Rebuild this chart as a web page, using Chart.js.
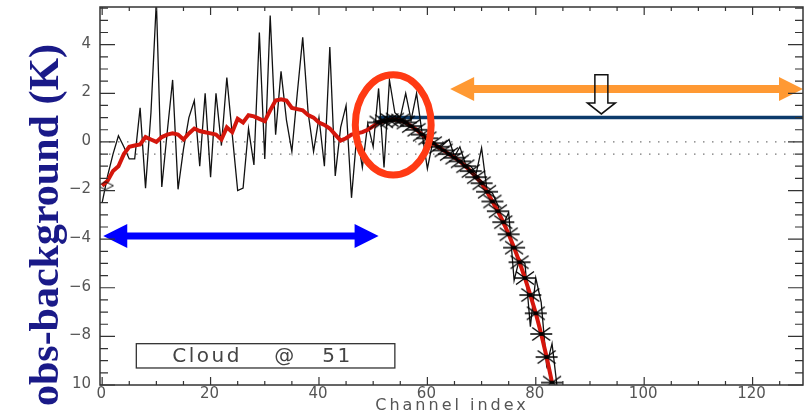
<!DOCTYPE html>
<html>
<head>
<meta charset="utf-8">
<script src="https://cdn.jsdelivr.net/npm/chart.js@4.4.1/dist/chart.umd.min.js"></script>
<style>
  html, body { margin: 0; padding: 0; background: #fff; }
</style>
</head>
<body>
<canvas id="chart" width="806" height="412"></canvas>
<script>
// obs - background per channel (black noisy trace), channels 0..84
const obsMinusBg = [
  -2.5, -1.4, -0.5, 0.25, -0.2, -0.7, -0.7, 1.4, -1.9, 1.2,
  5.8, -1.85, 0.4, 2.55, -1.95, -0.3, 1.0, 1.7, -1.0, 2.0,
  -1.45, 2.0, -0.15, 2.65, 0.3, -2.0, -1.9, 0.55, -0.95, 4.5,
  -0.7, 5.2, 0.3, 2.9, 0.9, -0.4, 2.0, 4.3, 1.2, -0.4,
  1.0, -1.0, 3.9, -1.4, 0.6, 1.5, -2.3, 0.35, -1.05, 0.75,
  -0.2, 2.2, -1.05, 2.55, 1.2, 1.0, 2.0, 0.9, 2.0, 0.4,
  -1.1, 0.0, -0.3, -0.1, 0.1, -0.6, -0.2, -0.9, -1.0, -1.3,
  -0.25, -2.0, -2.1, -2.6, -3.4, -2.9, -5.7, -4.8, -5.0, -7.6,
  -5.6, -6.6, -9.2, -8.3, -10.2
];

// smoothed departures (red), channels 0..83
const smoothed = [
  -1.8, -1.6, -1.2, -1.0, -0.5, -0.2, -0.15, -0.1, 0.2, 0.1,
  0.0, 0.2, 0.3, 0.35, 0.3, 0.1, 0.35, 0.55, 0.45, 0.4,
  0.35, 0.3, 0.1, 0.6, 0.4, 0.95, 0.8, 1.1, 1.05, 0.95,
  0.85, 1.3, 1.7, 1.75, 1.7, 1.4, 1.35, 1.3, 1.1, 1.0,
  0.8, 0.7, 0.55, 0.3, 0.05, 0.15, 0.3, 0.35, 0.4, 0.5,
  0.65, 0.8, 0.85, 0.9, 0.92, 0.88, 0.8, 0.65, 0.5, 0.3,
  0.15, -0.05, -0.2, -0.35, -0.5, -0.65, -0.8, -1.0, -1.2, -1.45,
  -1.7, -2.05, -2.45, -2.85, -3.3, -3.8, -4.35, -4.95, -5.6, -6.3,
  -7.05, -7.9, -8.85, -9.9
];

const cloudChannel = 51;       // first channel flagged as cloudy
const cloudLevel = 1;          // threshold level (K)
const refLevels = [0, -0.5];   // dotted reference levels

const xMin = -0.4, xMax = 129.3;
const yMin = -10, yMax = 5.55;
const xTickLabels = [0, 20, 40, 60, 80, 100, 120];
const yTickLabels = [-10, -8, -6, -4, -2, 0, 2, 4];
const xMinorStep = 5;
const yMinorStep = 0.5;

// annotation anchors in data units
const blueArrow = { from: 0.2, to: 51, level: -3.87 };
const orangeArrow = { from: 64.2, to: 129.3, level: 2.18 };
const hollowArrow = { channel: 92.1, top: 2.76, tip: 1.15 };
const ringMark = { channel: 53.7, level: 0.7, rx: 7.0, ry: 2.06 };
const cloudBox = { from: 6.3, to: 54, top: -8.3, bottom: -9.3 };

const toXY = (arr, start = 0) => arr.map((v, i) => ({ x: start + i, y: v }));

function makeAsterisk() {
  const c = document.createElement('canvas');
  c.width = 24; c.height = 16;
  const g = c.getContext('2d');
  g.strokeStyle = '#000';
  g.lineWidth = 1.4;
  g.beginPath();
  g.moveTo(1, 8); g.lineTo(23, 8);
  g.moveTo(3, 1.5); g.lineTo(21, 14.5);
  g.moveTo(3, 14.5); g.lineTo(21, 1.5);
  g.stroke();
  g.fillStyle = '#000';
  g.beginPath(); g.arc(12, 8, 2, 0, Math.PI * 2); g.fill();
  return c;
}

function makeDiamond() {
  const c = document.createElement('canvas');
  c.width = 18; c.height = 10;
  const g = c.getContext('2d');
  g.strokeStyle = '#111';
  g.lineWidth = 1;
  g.beginPath();
  g.moveTo(1, 5); g.lineTo(9, 1); g.lineTo(17, 5); g.lineTo(9, 9); g.closePath();
  g.stroke();
  return c;
}

function doubleArrow(ctx, x1, x2, yc, shaft, headLen, headH, color) {
  ctx.fillStyle = color;
  ctx.beginPath();
  ctx.moveTo(x1, yc);
  ctx.lineTo(x1 + headLen, yc - headH / 2);
  ctx.lineTo(x1 + headLen, yc - shaft / 2);
  ctx.lineTo(x2 - headLen, yc - shaft / 2);
  ctx.lineTo(x2 - headLen, yc - headH / 2);
  ctx.lineTo(x2, yc);
  ctx.lineTo(x2 - headLen, yc + headH / 2);
  ctx.lineTo(x2 - headLen, yc + shaft / 2);
  ctx.lineTo(x1 + headLen, yc + shaft / 2);
  ctx.lineTo(x1 + headLen, yc + headH / 2);
  ctx.closePath();
  ctx.fill();
}

function hollowPath(ctx, cx, top, tip) {
  const sw = 6.5, hw = 14, headTop = tip - 11;
  ctx.beginPath();
  ctx.moveTo(cx - sw, top);
  ctx.lineTo(cx + sw, top);
  ctx.lineTo(cx + sw, headTop);
  ctx.lineTo(cx + hw, headTop);
  ctx.lineTo(cx, tip);
  ctx.lineTo(cx - hw, headTop);
  ctx.lineTo(cx - sw, headTop);
  ctx.closePath();
}

const tickFont = '15px "DejaVu Sans"';
const tickColor = '#555';

const fmtY = v => v === -10 ? '10' : (v < 0 ? '\u2212' + Math.abs(v) : String(v));

// axes frame, inward ticks, labels and annotations
const decorations = {
  id: 'decorations',
  afterDatasetsDraw(chart) {
    const { ctx, chartArea: a, scales: { x, y } } = chart;
    ctx.save();

    // blue arrow (clear-sky range)
    doubleArrow(ctx, x.getPixelForValue(blueArrow.from), x.getPixelForValue(blueArrow.to),
      y.getPixelForValue(blueArrow.level), 7, 24, 24, '#0000ff');

    // hollow arrow fill, orange arrow, then hollow outline
    const hx = x.getPixelForValue(hollowArrow.channel);
    const htop = y.getPixelForValue(hollowArrow.top);
    const htip = y.getPixelForValue(hollowArrow.tip);
    hollowPath(ctx, hx, htop, htip);
    ctx.fillStyle = '#fff';
    ctx.fill();
    doubleArrow(ctx, x.getPixelForValue(orangeArrow.from), x.getPixelForValue(orangeArrow.to),
      y.getPixelForValue(orangeArrow.level), 8, 24, 24, '#ff9933');
    hollowPath(ctx, hx, htop, htip);
    ctx.strokeStyle = '#111';
    ctx.lineWidth = 1.5;
    ctx.stroke();

    // ring around the cloud onset
    const rx = Math.abs(x.getPixelForValue(ringMark.channel + ringMark.rx) - x.getPixelForValue(ringMark.channel));
    const ry = Math.abs(y.getPixelForValue(ringMark.level + ringMark.ry) - y.getPixelForValue(ringMark.level));
    ctx.beginPath();
    ctx.ellipse(x.getPixelForValue(ringMark.channel), y.getPixelForValue(ringMark.level), rx, ry, 0, 0, Math.PI * 2);
    ctx.strokeStyle = '#ff3a14';
    ctx.lineWidth = 7;
    ctx.stroke();

    // cloud label box
    const bx1 = x.getPixelForValue(cloudBox.from), bx2 = x.getPixelForValue(cloudBox.to);
    const by1 = y.getPixelForValue(cloudBox.top), by2 = y.getPixelForValue(cloudBox.bottom);
    ctx.fillStyle = '#fff';
    ctx.fillRect(bx1, by1, bx2 - bx1, by2 - by1);
    ctx.strokeStyle = '#333';
    ctx.lineWidth = 1.3;
    ctx.strokeRect(bx1, by1, bx2 - bx1, by2 - by1);
    ctx.fillStyle = '#444';
    ctx.font = '20px "DejaVu Sans"';
    ctx.textBaseline = 'middle';
    ctx.textAlign = 'left';
    ctx.letterSpacing = '2.5px';
    ctx.fillText('Cloud', bx1 + 36, (by1 + by2) / 2 + 1);
    ctx.fillText('@', bx1 + 138, (by1 + by2) / 2 + 1);
    ctx.fillText(String(cloudChannel), bx1 + 186, (by1 + by2) / 2 + 1);
    ctx.letterSpacing = '0px';

    // frame
    ctx.strokeStyle = '#333';
    ctx.lineWidth = 1.5;
    ctx.strokeRect(a.left, a.top, a.right - a.left, a.bottom - a.top);

    // inward ticks
    ctx.lineWidth = 1.2;
    ctx.beginPath();
    for (let v = 0; v <= xMax; v += xMinorStep) {
      const px = x.getPixelForValue(v);
      const len = xTickLabels.includes(v) ? 8 : 4;
      ctx.moveTo(px, a.bottom); ctx.lineTo(px, a.bottom - len);
      ctx.moveTo(px, a.top); ctx.lineTo(px, a.top + len);
    }
    for (let v = yMin; v <= yMax; v += yMinorStep) {
      const py = y.getPixelForValue(v);
      const len = yTickLabels.includes(v) ? 15 : 8;
      ctx.moveTo(a.left, py); ctx.lineTo(a.left + len, py);
      ctx.moveTo(a.right, py); ctx.lineTo(a.right - len, py);
    }
    ctx.stroke();

    // tick labels
    ctx.fillStyle = tickColor;
    ctx.font = tickFont;
    ctx.textAlign = 'center';
    ctx.textBaseline = 'middle';
    xTickLabels.forEach(v => ctx.fillText(String(v), x.getPixelForValue(v) - 1, a.bottom + 9));
    ctx.textAlign = 'right';
    yTickLabels.forEach(v => ctx.fillText(fmtY(v), a.left - 9, y.getPixelForValue(v) - 1));

    // axis titles
    ctx.textAlign = 'center';
    ctx.textBaseline = 'alphabetic';
    ctx.font = '16px "DejaVu Sans"';
    ctx.letterSpacing = '3px';
    ctx.fillText('Channel index', 452, 410);
    ctx.letterSpacing = '0px';

    ctx.translate(58, 225);
    ctx.rotate(-Math.PI / 2);
    ctx.font = 'bold 42px "Liberation Serif"';
    ctx.fillStyle = '#1a1a88';
    ctx.fillText('obs-background (K)', 0, 0);
    ctx.restore();
  }
};

const asterisk = makeAsterisk();
const diamond = makeDiamond();

const refSets = refLevels.map(lv => ({
  data: [{ x: xMin, y: lv }, { x: xMax, y: lv }],
  borderColor: '#777',
  borderWidth: 1.2,
  borderDash: [1.5, 7.5],
  pointRadius: 0,
  order: 6
}));

new Chart(document.getElementById('chart'), {
  type: 'line',
  data: {
    datasets: [
      {
        label: 'fit points',
        data: toXY(smoothed.slice(cloudChannel), cloudChannel),
        showLine: false,
        pointStyle: asterisk,
        pointRadius: 10,
        order: 0
      },
      {
        label: 'start',
        data: [{ x: 0.6, y: smoothed[0] }],
        showLine: false,
        pointStyle: diamond,
        order: 1
      },
      {
        label: 'smoothed',
        data: toXY(smoothed),
        borderColor: '#d4160c',
        borderWidth: 4,
        pointRadius: 0,
        order: 2
      },
      {
        label: 'obs-background',
        data: toXY(obsMinusBg),
        borderColor: '#111',
        borderWidth: 1.3,
        pointRadius: 0,
        order: 3
      },
      {
        label: 'cloud level',
        data: [{ x: cloudChannel, y: cloudLevel }, { x: xMax, y: cloudLevel }],
        borderColor: '#0c3b6b',
        borderWidth: 3.5,
        pointRadius: 0,
        order: 4
      },
      ...refSets
    ]
  },
  options: {
    responsive: false,
    animation: false,
    layout: { autoPadding: false, padding: { left: 100, right: 3, top: 7, bottom: 27 } },
    elements: { line: { tension: 0 } },
    plugins: { legend: { display: false }, tooltip: { enabled: false } },
    scales: {
      x: { type: 'linear', min: xMin, max: xMax, display: false },
      y: { type: 'linear', min: yMin, max: yMax, display: false }
    }
  },
  plugins: [decorations]
});
</script>
</body>
</html>
